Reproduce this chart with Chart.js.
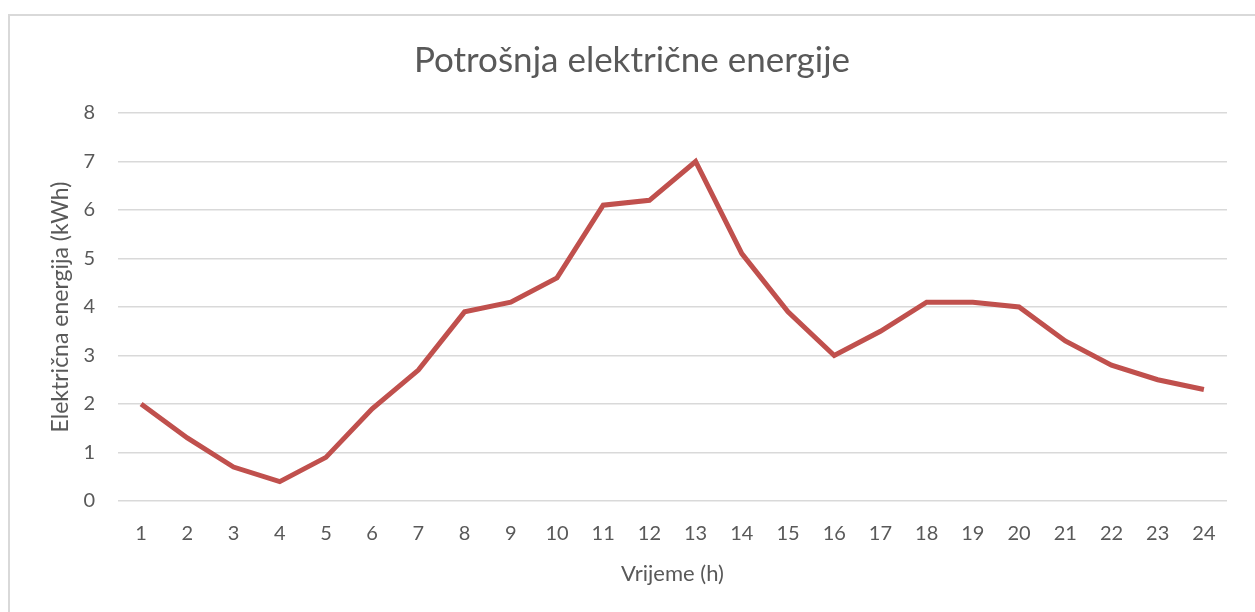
<!DOCTYPE html>
<html>
<head>
<meta charset="utf-8">
<script src="https://cdn.jsdelivr.net/npm/chart.js@4"></script>
<style>
  body { margin: 0; background: #fff; }
</style>
</head>
<body>
<canvas id="energyChart" width="1255" height="612"></canvas>
<script>
const hours = ['1','2','3','4','5','6','7','8','9','10','11','12','13','14','15','16','17','18','19','20','21','22','23','24'];
const consumption = [2, 1.3, 0.7, 0.4, 0.9, 1.9, 2.7, 3.9, 4.1, 4.6, 6.1, 6.2, 7, 5.1, 3.9, 3.0, 3.5, 4.1, 4.1, 4.0, 3.3, 2.8, 2.5, 2.3];
const yTicks = [0, 1, 2, 3, 4, 5, 6, 7, 8];

const labelColor = '#595959';
const fontFamily = 'Lato, "Open Sans", sans-serif';

// outer frame like the spreadsheet chart box
const frame = {
    id: 'frame',
    beforeDraw(chart) {
        const ctx = chart.ctx;
        ctx.save();
        ctx.fillStyle = '#fff';
        ctx.fillRect(0, 0, chart.width, chart.height);
        ctx.strokeStyle = '#d9d9d9';
        ctx.lineWidth = 2;
        ctx.strokeRect(9, 15, chart.width + 20, chart.height + 20);
        ctx.restore();
    }
};

document.addEventListener('DOMContentLoaded', () => {
    const ctx = document.getElementById('energyChart').getContext('2d');
    new Chart(ctx, {
        type: 'line',
        data: {
            labels: hours,
            datasets: [{
                data: consumption,
                borderColor: '#c0504d',
                borderWidth: 5,
                pointRadius: 0,
                tension: 0,
                fill: false
            }]
        },
        options: {
            responsive: false,
            animation: false,
            layout: { padding: { left: 37, right: 28, top: 0, bottom: 0 } },
            plugins: {
                legend: { display: false },
                tooltip: { enabled: false },
                title: {
                    display: true,
                    text: 'Potrošnja električne energije',
                    color: labelColor,
                    font: { family: fontFamily, size: 35, weight: 'normal', lineHeight: 1.2 },
                    padding: { top: 40, bottom: 31 }
                }
            },
            scales: {
                x: {
                    offset: true,
                    grid: { display: false, drawTicks: false },
                    border: { display: false },
                    ticks: {
                        color: labelColor,
                        font: { family: fontFamily, size: 20 },
                        padding: 21,
                        maxRotation: 0,
                        autoSkip: false
                    },
                    title: {
                        display: true,
                        text: 'Vrijeme (h)',
                        color: labelColor,
                        font: { family: fontFamily, size: 22 },
                        padding: { top: 0, bottom: 25 }
                    },
                    afterFit(scale) { scale.height = 111; }
                },
                y: {
                    min: 0,
                    max: 8,
                    afterBuildTicks(scale) { scale.ticks = yTicks.map(v => ({ value: v })); },
                    grid: { color: '#d9d9d9', lineWidth: 1.5, drawTicks: false },
                    border: { display: false },
                    ticks: {
                        color: labelColor,
                        font: { family: fontFamily, size: 20 },
                        padding: 23
                    },
                    title: {
                        display: true,
                        text: 'Električna energija (kWh)',
                        color: labelColor,
                        font: { family: fontFamily, size: 23 },
                        padding: { top: 10, bottom: 0 }
                    },
                    afterFit(scale) { scale.width = 81; }
                }
            }
        },
        plugins: [frame]
    });
});
</script>
</body>
</html>
